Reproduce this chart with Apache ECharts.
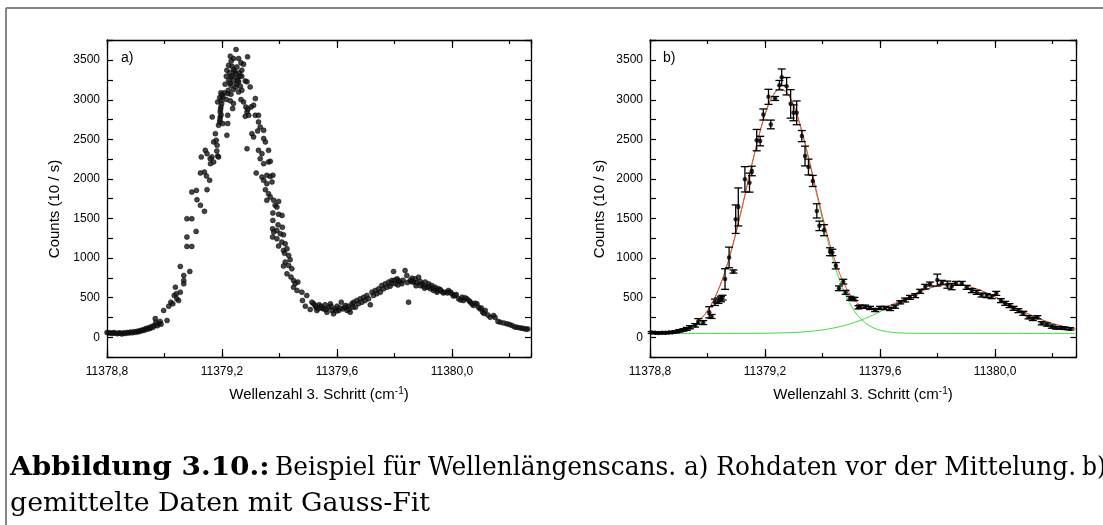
<!DOCTYPE html>
<html><head><meta charset="utf-8">
<script src="https://cdn.jsdelivr.net/npm/echarts@6/dist/echarts.min.js"></script>
<style>html,body{margin:0;padding:0;background:#fff;}#c{width:1103px;height:525px;}</style>
</head><body><div id="c"></div>
<script>
// ---------- axis ranges and tick labels ----------
const xMin = 11378.8;
const xMaxA = 11380.275;
const xMaxB = 11380.283;
const yMin = -250;
const yMax = 3755;
const xTickValues = [11378.8, 11379.2, 11379.6, 11380.0];
const xTickTexts = ['11378,8', '11379,2', '11379,6', '11380,0'];
const yTickValues = [0, 500, 1000, 1500, 2000, 2500, 3000, 3500];

// ---------- panel a) raw data (x, counts) ----------
const rawBaseline = [[11378.800,60],[11378.806,52],[11378.812,55],[11378.818,48],[11378.824,58],[11378.830,50],[11378.836,45],[11378.842,55],[11378.848,50],[11378.852,42],[11378.858,55],[11378.864,48],[11378.870,60],[11378.876,52],[11378.882,65],[11378.888,55],[11378.894,70],[11378.900,62],[11378.905,75],[11378.910,68],[11378.915,85],[11378.920,80],[11378.925,95],[11378.930,88],[11378.935,110],[11378.940,100],[11378.945,120],[11378.950,110],[11378.955,135],[11378.960,125],[11378.965,150],[11378.968,235],[11378.970,190],[11378.975,145],[11378.980,170],[11378.985,200],[11378.988,165]];
const rawRise = [[11378.997,337],[11379.009,211],[11379.015,392],[11379.022,443],[11379.029,422],[11379.034,527],[11379.041,548],[11379.043,485],[11379.049,464],[11379.055,569],[11379.038,632],[11379.055,894],[11379.067,780],[11379.067,717],[11379.067,675],[11379.088,831],[11379.078,1497],[11379.095,1497],[11379.078,1265],[11379.078,1147],[11379.095,1147],[11379.110,1337],[11379.095,1834],[11379.111,1855],[11379.113,1737],[11379.125,1666],[11379.139,1590],[11379.148,1864],[11379.128,2277],[11379.142,2361],[11379.148,2319],[11379.125,2075],[11379.139,2087],[11379.146,2037],[11379.157,1982],[11379.160,2193],[11379.171,2214],[11379.165,2277],[11379.177,2572],[11379.171,2467],[11379.183,2424],[11379.166,2783],[11379.188,2678],[11379.185,2290],[11379.159,2256],[11379.182,2353],[11379.180,2488],[11379.217,2551],[11379.188,2277]];
const rawPeak = [[11379.249,3635],[11379.229,3550],[11379.240,3521],[11379.258,3521],[11379.289,3542],[11379.232,3491],[11379.266,3466],[11379.275,3449],[11379.223,3436],[11379.235,3424],[11379.252,3415],[11379.217,3373],[11379.240,3381],[11379.227,3340],[11379.246,3331],[11379.261,3340],[11379.269,3373],[11379.215,3297],[11379.231,3289],[11379.252,3280],[11379.269,3297],[11379.223,3247],[11379.240,3238],[11379.258,3226],[11379.281,3238],[11379.287,3226],[11379.211,3196],[11379.231,3184],[11379.251,3196],[11379.264,3171],[11379.298,3162],[11379.240,3129],[11379.269,3120],[11379.258,3099],[11379.196,3087],[11379.208,3087],[11379.220,3078],[11379.231,3070],[11379.192,3028],[11379.203,3036],[11379.215,3002],[11379.229,2986],[11379.240,2952],[11379.237,2888],[11379.185,2973],[11379.196,2909],[11379.194,2846],[11379.194,2783],[11379.192,2720],[11379.203,2699],[11379.220,2804],[11379.220,2699],[11379.236,3300],[11379.245,3360],[11379.255,3250],[11379.262,3300],[11379.228,3210],[11379.248,3160],[11379.222,3120],[11379.200,3060],[11379.197,2990],[11379.199,2950],[11379.195,2880],[11379.197,2810],[11379.193,2750]];
const rawFall = [[11379.275,2973],[11379.266,3002],[11379.310,2931],[11379.316,3015],[11379.301,2909],[11379.287,2846],[11379.281,2791],[11379.316,2804],[11379.327,2804],[11379.327,2720],[11379.333,2656],[11379.345,2614],[11379.324,2606],[11379.304,2572],[11379.310,2530],[11379.345,2509],[11379.351,2467],[11379.287,2382],[11379.327,2361],[11379.339,2319],[11379.362,2361],[11379.333,2256],[11379.345,2193],[11379.362,2214],[11379.319,2075],[11379.339,2024],[11379.356,2045],[11379.368,2032],[11379.377,2045],[11379.345,1982],[11379.356,1940],[11379.374,1961],[11379.351,1864],[11379.362,1813],[11379.368,1771],[11379.356,1729],[11379.380,1729],[11379.385,1666],[11379.377,1569],[11379.397,1552],[11379.409,1539],[11379.377,1476],[11379.283,2909],[11379.293,2804],[11379.290,2880],[11379.368,2222],[11379.397,1716],[11379.391,1644],[11379.376,1370],[11379.380,1328],[11379.391,1349],[11379.376,1265],[11379.403,1307],[11379.414,1294],[11379.391,1244],[11379.408,1202],[11379.420,1181],[11379.397,1151],[11379.414,1096],[11379.426,1117],[11379.432,1033],[11379.420,949],[11379.432,907],[11379.414,899],[11379.443,864],[11379.426,801],[11379.449,717],[11379.464,696],[11379.449,632],[11379.461,590],[11379.478,569],[11379.480,464],[11379.495,527],[11379.490,392],[11379.513,443],[11379.507,350],[11379.395,1420],[11379.410,1390],[11379.418,1060],[11379.437,980],[11379.440,760],[11379.455,680]];
const rawValley = [[11379.519,422],[11379.527,379],[11379.530,337],[11379.538,409],[11379.545,392],[11379.553,358],[11379.559,409],[11379.565,316],[11379.571,379],[11379.577,422],[11379.583,337],[11379.588,295],[11379.594,358],[11379.600,392],[11379.606,337],[11379.615,443],[11379.620,358],[11379.627,379],[11379.635,337],[11379.640,392],[11379.646,316],[11379.652,422],[11379.524,400],[11379.535,360],[11379.548,370],[11379.562,350],[11379.580,390],[11379.598,330],[11379.610,370],[11379.630,400],[11379.642,350],[11379.655,380]];
const rawSecond = [[11379.658,443],[11379.664,379],[11379.669,464],[11379.675,422],[11379.681,485],[11379.687,443],[11379.693,506],[11379.698,464],[11379.704,527],[11379.710,485],[11379.716,409],[11379.722,569],[11379.727,527],[11379.733,590],[11379.739,548],[11379.745,611],[11379.751,569],[11379.756,653],[11379.762,611],[11379.768,675],[11379.774,632],[11379.780,696],[11379.785,645],[11379.791,717],[11379.797,831],[11379.803,675],[11379.809,738],[11379.814,717],[11379.820,696],[11379.826,675],[11379.837,843],[11379.843,780],[11379.849,443],[11379.855,717],[11379.861,746],[11379.867,696],[11379.872,738],[11379.878,687],[11379.884,759],[11379.890,704],[11379.896,675],[11379.901,645],[11379.907,696],[11379.913,632],[11379.919,675],[11379.925,611],[11379.930,653],[11379.936,590],[11379.942,632],[11379.948,569],[11379.954,611],[11379.965,578],[11379.977,569],[11379.988,590],[11380.000,548],[11380.011,527],[11380.023,485],[11380.035,506],[11380.040,464],[11380.052,485],[11380.064,443],[11380.075,400],[11380.087,422],[11380.098,358],[11380.107,316],[11380.116,337],[11380.133,253],[11380.145,274],[11380.168,190],[11380.191,169],[11380.209,148],[11380.226,126],[11380.243,114],[11380.264,105],[11379.790,680],[11379.800,720],[11379.812,660],[11379.830,720],[11379.845,690],[11379.860,700],[11379.875,650],[11379.890,650],[11379.905,620],[11379.920,640],[11379.935,620],[11379.950,590],[11379.960,600],[11379.970,560],[11379.985,560],[11379.995,570],[11380.005,520],[11380.015,540],[11380.030,470],[11380.045,500],[11380.060,460],[11380.070,420],[11380.080,430],[11380.092,380],[11380.102,370],[11380.112,300],[11380.125,280],[11380.150,250],[11380.160,200],[11380.180,180],[11380.200,160],[11380.218,130],[11380.235,118],[11380.250,110],[11380.258,100]];

// ---------- panel b) averaged data: x, counts, error ----------
const avgX = [11378.806,11378.818,11378.830,11378.842,11378.854,11378.866,11378.878,11378.890,11378.902,11378.916,11378.928,11378.939,11378.957,11378.968,11378.985,11379.006,11379.014,11379.026,11379.038,11379.047,11379.052,11379.061,11379.075,11379.090,11379.098,11379.107,11379.130,11379.146,11379.154,11379.171,11379.183,11379.194,11379.212,11379.220,11379.235,11379.250,11379.258,11379.275,11379.289,11379.299,11379.310,11379.328,11379.339,11379.351,11379.366,11379.380,11379.389,11379.405,11379.426,11379.434,11379.446,11379.457,11379.472,11379.480,11379.496,11379.505,11379.511,11379.525,11379.530,11379.548,11379.565,11379.583,11379.600,11379.617,11379.635,11379.652,11379.670,11379.687,11379.704,11379.722,11379.739,11379.757,11379.774,11379.799,11379.815,11379.834,11379.849,11379.864,11379.884,11379.901,11379.919,11379.936,11379.953,11379.971,11379.988,11380.004,11380.020,11380.035,11380.050,11380.064,11380.081,11380.098,11380.116,11380.131,11380.147,11380.162,11380.180,11380.197,11380.212,11380.228,11380.243,11380.261];
const avgY = [60,55,52,55,55,58,62,68,80,92,105,126,150,200,185,315,262,441,462,483,500,735,1008,830,1491,1646,1995,1953,2100,2490,2478,2814,3037,2688,3016,3184,3284,3171,2948,2835,2835,2541,2289,2150,1974,1596,1407,1352,1080,1071,903,618,702,567,492,483,483,378,386,386,370,344,370,370,357,386,441,470,504,525,580,638,672,722,693,664,640,680,680,630,588,567,533,525,512,554,462,428,399,365,336,302,252,231,252,176,160,134,118,118,113,105];
const avgErr = [12,10,10,10,10,12,12,12,15,15,18,20,22,35,25,70,25,40,35,35,30,130,130,20,180,240,160,120,60,135,60,70,95,55,25,60,105,110,180,100,150,70,125,100,70,90,60,70,50,40,40,30,30,25,25,20,20,20,20,20,20,20,20,20,20,20,20,25,25,25,25,30,25,75,25,45,40,25,25,25,25,25,25,25,25,25,25,25,25,25,25,25,20,20,20,20,20,20,15,15,15,15];

// ---------- fit curves read from panel b) ----------
const fitX = [11378.800,11378.850,11378.900,11378.925,11378.950,11378.975,11379.000,11379.025,11379.050,11379.075,11379.100,11379.125,11379.150,11379.175,11379.200,11379.225,11379.250,11379.275,11379.300,11379.325,11379.350,11379.375,11379.400,11379.425,11379.450,11379.475,11379.500,11379.525,11379.550,11379.575,11379.600,11379.625,11379.650,11379.675,11379.700,11379.725,11379.750,11379.800,11379.850,11379.900,11379.950,11380.000,11380.050,11380.100,11380.150,11380.200,11380.250,11380.280];
const fitSum = [50,56,79,106,151,224,335,496,714,995,1334,1715,2114,2494,2817,3039,3137,3097,2930,2648,2294,1906,1526,1181,895,674,518,419,368,352,362,389,426,468,510,554,592,648,668,648,592,510,416,322,239,173,125,103];
const peak1Y = [50,56,79,106,151,224,335,496,714,995,1334,1715,2114,2494,2815,3038,3135,3093,2918,2631,2270,1874,1482,1123,818,575,393,263,177,121,88,69,58,53,50,49,48,48,48,48,48,48,48,48,48,48,48,48];
const peak2X = [11378.800,11379.000,11379.200,11379.300,11379.350,11379.400,11379.450,11379.500,11379.550,11379.600,11379.650,11379.700,11379.750,11379.800,11379.850,11379.900,11379.950,11380.000,11380.050,11380.100,11380.150,11380.200,11380.250,11380.280];
const peak2Y = [48,48,50,60,72,92,125,173,239,322,416,510,592,648,668,648,592,510,416,322,239,173,125,103];

// ---------- build ----------
const FONT = '"Liberation Sans", Arial, sans-serif';
const SERIF = '"DejaVu Serif", serif';
function xLabel(v) {
  for (let i = 0; i < xTickValues.length; i++) if (Math.abs(v - xTickValues[i]) < 1e-6) return xTickTexts[i];
  return '';
}
function yLabel(v) { return yTickValues.indexOf(Math.round(v)) >= 0 && Math.abs(v - Math.round(v)) < 1e-6 ? String(Math.round(v)) : ''; }

const xAxes = [], yAxes = [];
function addAxes(gi, xmax) {
  const base = { gridIndex: gi, type: 'value', min: xMin, max: xmax, splitLine: { show: false } };
  xAxes.push(Object.assign({}, base, { position: 'bottom', interval: 0.4,
    axisLine: { show: true, onZero: false, lineStyle: { color: '#000', width: 1.3 } },
    axisTick: { show: true, inside: true, length: 8, lineStyle: { color: '#000', width: 1.2 } },
    axisLabel: { show: true, formatter: xLabel, margin: 9, fontSize: 12, fontFamily: FONT, color: '#000', showMinLabel: true, showMaxLabel: false } }));
  xAxes.push(Object.assign({}, base, { position: 'bottom', offset: 0, interval: 0.2,
    axisLine: { show: false, onZero: false },
    axisTick: { show: true, inside: true, length: 4, lineStyle: { color: '#000', width: 1.2 } },
    axisLabel: { show: false } }));
  xAxes.push(Object.assign({}, base, { position: 'top', interval: 0.4,
    axisLine: { show: true, onZero: false, lineStyle: { color: '#000', width: 1.3 } },
    axisTick: { show: true, inside: true, length: 8, lineStyle: { color: '#000', width: 1.2 } },
    axisLabel: { show: false } }));
  xAxes.push(Object.assign({}, base, { position: 'top', offset: 0, interval: 0.2,
    axisLine: { show: false, onZero: false },
    axisTick: { show: true, inside: true, length: 4, lineStyle: { color: '#000', width: 1.2 } },
    axisLabel: { show: false } }));
  const ybase = { gridIndex: gi, type: 'value', min: yMin, max: yMax, interval: 250, splitLine: { show: false } };
  yAxes.push(Object.assign({}, ybase, { position: 'left',
    axisLine: { show: true, onZero: false, lineStyle: { color: '#000', width: 1.3 } },
    axisTick: { show: true, inside: true, length: 6, lineStyle: { color: '#000', width: 1.2 } },
    axisLabel: { show: true, formatter: yLabel, margin: 7, fontSize: 12, fontFamily: FONT, color: '#000' } }));
  yAxes.push(Object.assign({}, ybase, { position: 'right',
    axisLine: { show: true, onZero: false, lineStyle: { color: '#000', width: 1.3 } },
    axisTick: { show: true, inside: true, length: 6, lineStyle: { color: '#000', width: 1.2 } },
    axisLabel: { show: false } }));
}
addAxes(0, xMaxA);
addAxes(1, xMaxB);

const rawAll = [].concat(rawBaseline, rawRise, rawPeak, rawFall, rawValley, rawSecond);
const avgData = avgX.map((x, i) => [x, avgY[i], avgErr[i]]);

const chart = echarts.init(document.getElementById('c'), null, { renderer: 'canvas' });
chart.setOption({
  animation: false,
  backgroundColor: '#fff',
  grid: [
    { left: 107, top: 40, width: 424, height: 317 },
    { left: 650, top: 40, width: 426.5, height: 317 }
  ],
  xAxis: xAxes,
  yAxis: yAxes,
  series: [
    { type: 'scatter', xAxisIndex: 0, yAxisIndex: 0, data: rawAll, symbolSize: 5,
      itemStyle: { color: '#151515', borderColor: '#000', borderWidth: 0.6 }, z: 5 },
    { type: 'line', xAxisIndex: 4, yAxisIndex: 2, data: fitX.map((x, i) => [x, peak1Y[i]]), smooth: 0.3,
      showSymbol: false, lineStyle: { color: '#3ee03e', width: 1 }, z: 2 },
    { type: 'line', xAxisIndex: 4, yAxisIndex: 2, data: peak2X.map((x, i) => [x, peak2Y[i]]), smooth: 0.3,
      showSymbol: false, lineStyle: { color: '#3ee03e', width: 1 }, z: 2 },
    { type: 'line', xAxisIndex: 4, yAxisIndex: 2, data: fitX.map((x, i) => [x, fitSum[i]]), smooth: 0.3,
      showSymbol: false, lineStyle: { color: '#ff3a3a', width: 1 }, z: 3 },
    { type: 'custom', xAxisIndex: 4, yAxisIndex: 2, data: avgData, z: 6,
      renderItem: function (params, api) {
        const x = api.value(0), y = api.value(1), e = api.value(2);
        const t = api.coord([x, y + e]), b = api.coord([x, y - e]);
        const w = 4;
        const st = { stroke: '#000', lineWidth: 1.3 };
        return { type: 'group', children: [
          { type: 'line', shape: { x1: t[0], y1: t[1], x2: b[0], y2: b[1] }, style: st },
          { type: 'line', shape: { x1: t[0] - w, y1: t[1], x2: t[0] + w, y2: t[1] }, style: st },
          { type: 'line', shape: { x1: b[0] - w, y1: b[1], x2: b[0] + w, y2: b[1] }, style: st }
        ] };
      } },
    { type: 'scatter', xAxisIndex: 4, yAxisIndex: 2, data: avgData.map(d => [d[0], d[1]]), symbolSize: 4.5,
      itemStyle: { color: '#000' }, z: 7 }
  ],
  graphic: [
    { type: 'line', shape: { x1: 6, y1: 8, x2: 1103, y2: 8 }, style: { stroke: '#858585', lineWidth: 2 } },
    { type: 'line', shape: { x1: 6, y1: 8, x2: 6, y2: 525 }, style: { stroke: '#858585', lineWidth: 2 } },
    { type: 'text', x: 121, y: 58, style: { text: 'a)', font: '14px ' + FONT, fill: '#000', textVerticalAlign: 'middle' } },
    { type: 'text', x: 663, y: 58, style: { text: 'b)', font: '14px ' + FONT, fill: '#000', textVerticalAlign: 'middle' } },
    { type: 'text', x: 55, y: 209, rotation: Math.PI / 2, style: { text: 'Counts (10 / s)', font: '15px ' + FONT, fill: '#000', textAlign: 'center', textVerticalAlign: 'middle' } },
    { type: 'text', x: 600, y: 209, rotation: Math.PI / 2, style: { text: 'Counts (10 / s)', font: '15px ' + FONT, fill: '#000', textAlign: 'center', textVerticalAlign: 'middle' } },
    { type: 'text', x: 319, y: 395, style: { text: '{t|Wellenzahl 3. Schritt (cm}{s|-1}{t|)}', textAlign: 'center', textVerticalAlign: 'middle',
      rich: { t: { fontSize: 15, fontFamily: FONT, color: '#000', lineHeight: 18 }, s: { fontSize: 10, fontFamily: FONT, color: '#000', verticalAlign: 'top', lineHeight: 10 } } } },
    { type: 'text', x: 863, y: 395, style: { text: '{t|Wellenzahl 3. Schritt (cm}{s|-1}{t|)}', textAlign: 'center', textVerticalAlign: 'middle',
      rich: { t: { fontSize: 15, fontFamily: FONT, color: '#000', lineHeight: 18 }, s: { fontSize: 10, fontFamily: FONT, color: '#000', verticalAlign: 'top', lineHeight: 10 } } } },
    { type: 'text', x: 10, y: 468, scaleX: 1.075, style: { text: 'Abbildung 3.10.:', font: 'bold 26px ' + SERIF, fill: '#000', textVerticalAlign: 'middle' } },
    { type: 'text', x: 275, y: 468, scaleX: 0.955, style: { text: 'Beispiel für Wellenlängenscans. a) Rohdaten vor der Mittelung.', font: '26px ' + SERIF, fill: '#000', textVerticalAlign: 'middle' } },
    { type: 'text', x: 1082, y: 468, scaleX: 0.9, style: { text: 'b)', font: '26px ' + SERIF, fill: '#000', textVerticalAlign: 'middle' } },
    { type: 'text', x: 10, y: 504, scaleX: 1.03, style: { text: 'gemittelte Daten mit Gauss-Fit', font: '26px ' + SERIF, fill: '#000', textVerticalAlign: 'middle' } }
  ]
});
</script>
</body></html>
